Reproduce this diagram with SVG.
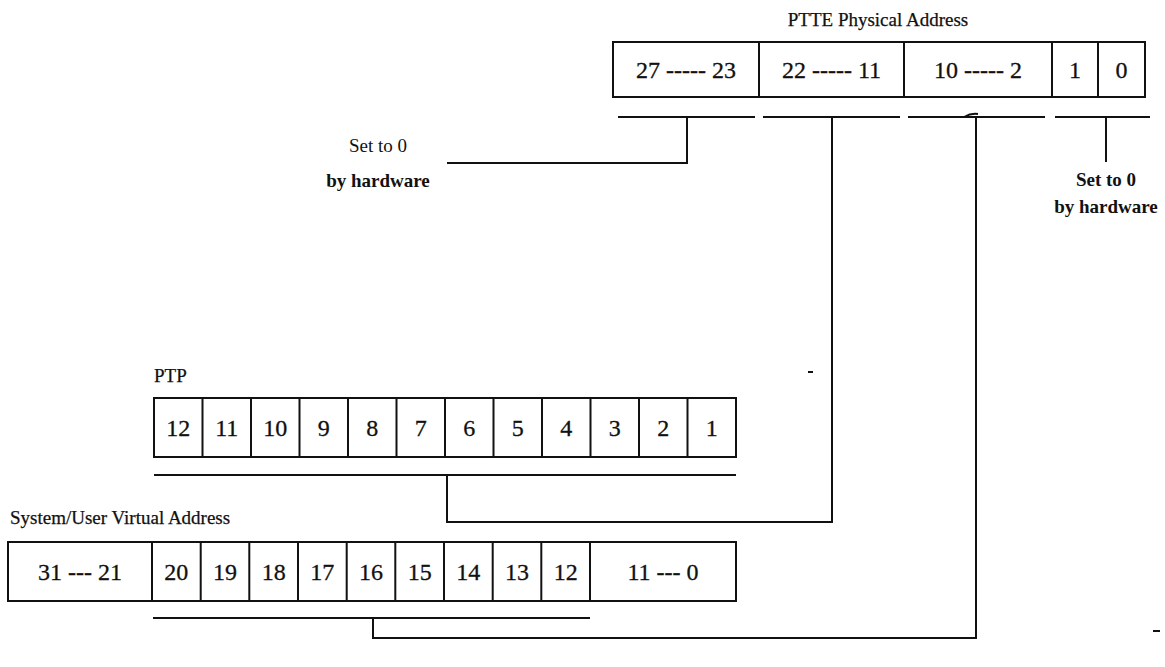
<svg xmlns="http://www.w3.org/2000/svg" width="1165" height="667" viewBox="0 0 1165 667">
<style>
.t{font-family:"Liberation Serif","Times New Roman",serif;fill:#111;}
.title{font-size:19px;stroke:#111;stroke-width:0.25;}
.cell{font-size:24px;text-anchor:middle;stroke:#111;stroke-width:0.3;}
.note{font-size:19px;text-anchor:middle;}
.b{font-weight:bold;}
.box{fill:#fff;stroke:#111;stroke-width:2;}
.ln{fill:none;stroke:#111;stroke-width:2;}
</style>
<rect width="1165" height="667" fill="#fff"/>

<g id="ptte">
<text class="t title" x="878" y="26" text-anchor="middle">PTTE Physical Address</text>
<rect class="box" x="613" y="42" width="532" height="55"/>
<path class="ln" d="M759,42V97M904,42V97M1052,42V97M1098,42V97"/>
<text class="t cell" x="686" y="78">27 ----- 23</text>
<text class="t cell" x="831.5" y="78">22 ----- 11</text>
<text class="t cell" x="978" y="78">10 ----- 2</text>
<text class="t cell" x="1075" y="78">1</text>
<text class="t cell" x="1121.5" y="78">0</text>
<path class="ln" d="M618,117H755M763,117H900M908,117H1045M1055,117H1150"/>
</g>

<g id="note-left">
<text class="t note" x="378" y="152" font-size="20">Set to 0</text>
<text class="t note b" x="378" y="187">by hardware</text>
</g>

<g id="note-right">
<text class="t note b" x="1106" y="186">Set to 0</text>
<text class="t note b" x="1106" y="213">by hardware</text>
</g>

<g id="ptp">
<text class="t title" x="154" y="382">PTP</text>
<rect class="box" x="154" y="398" width="582" height="59"/>
<path class="ln" d="M202.5,398V457M251,398V457M299.5,398V457M348,398V457M396.5,398V457M445,398V457M493.5,398V457M542,398V457M590.5,398V457M639,398V457M687.5,398V457"/>
<text class="t cell" x="178.25" y="436">12</text>
<text class="t cell" x="226.75" y="436">11</text>
<text class="t cell" x="275.25" y="436">10</text>
<text class="t cell" x="323.75" y="436">9</text>
<text class="t cell" x="372.25" y="436">8</text>
<text class="t cell" x="420.75" y="436">7</text>
<text class="t cell" x="469.25" y="436">6</text>
<text class="t cell" x="517.75" y="436">5</text>
<text class="t cell" x="566.25" y="436">4</text>
<text class="t cell" x="614.75" y="436">3</text>
<text class="t cell" x="663.25" y="436">2</text>
<text class="t cell" x="711.75" y="436">1</text>
<path class="ln" d="M154,475H736"/>
</g>

<g id="suva">
<text class="t title" x="10" y="524">System/User Virtual Address</text>
<rect class="box" x="8" y="542" width="728" height="59"/>
<path class="ln" d="M152,542V601M200.7,542V601M249.3,542V601M298,542V601M346.7,542V601M395.3,542V601M444,542V601M492.7,542V601M541.3,542V601M590,542V601"/>
<text class="t cell" x="80" y="580">31 --- 21</text>
<text class="t cell" x="176.3" y="580">20</text>
<text class="t cell" x="225" y="580">19</text>
<text class="t cell" x="273.7" y="580">18</text>
<text class="t cell" x="322.3" y="580">17</text>
<text class="t cell" x="371" y="580">16</text>
<text class="t cell" x="419.7" y="580">15</text>
<text class="t cell" x="468.3" y="580">14</text>
<text class="t cell" x="517" y="580">13</text>
<text class="t cell" x="565.7" y="580">12</text>
<text class="t cell" x="663" y="580">11 --- 0</text>
<path class="ln" d="M153,618H590"/>
</g>

<g id="connectors">
<path class="ln" d="M687,117V163H447"/>
<path class="ln" d="M832,117V522H447V475"/>
<path class="ln" d="M976,117V638H373V618"/>
<path class="ln" d="M1106,117V162"/>
<path class="ln" stroke-width="1.5" d="M964,117Q971,113 978,114"/>
<path class="ln" stroke-width="1.5" d="M808,372H813M1153,631H1160"/>
</g>
</svg>
